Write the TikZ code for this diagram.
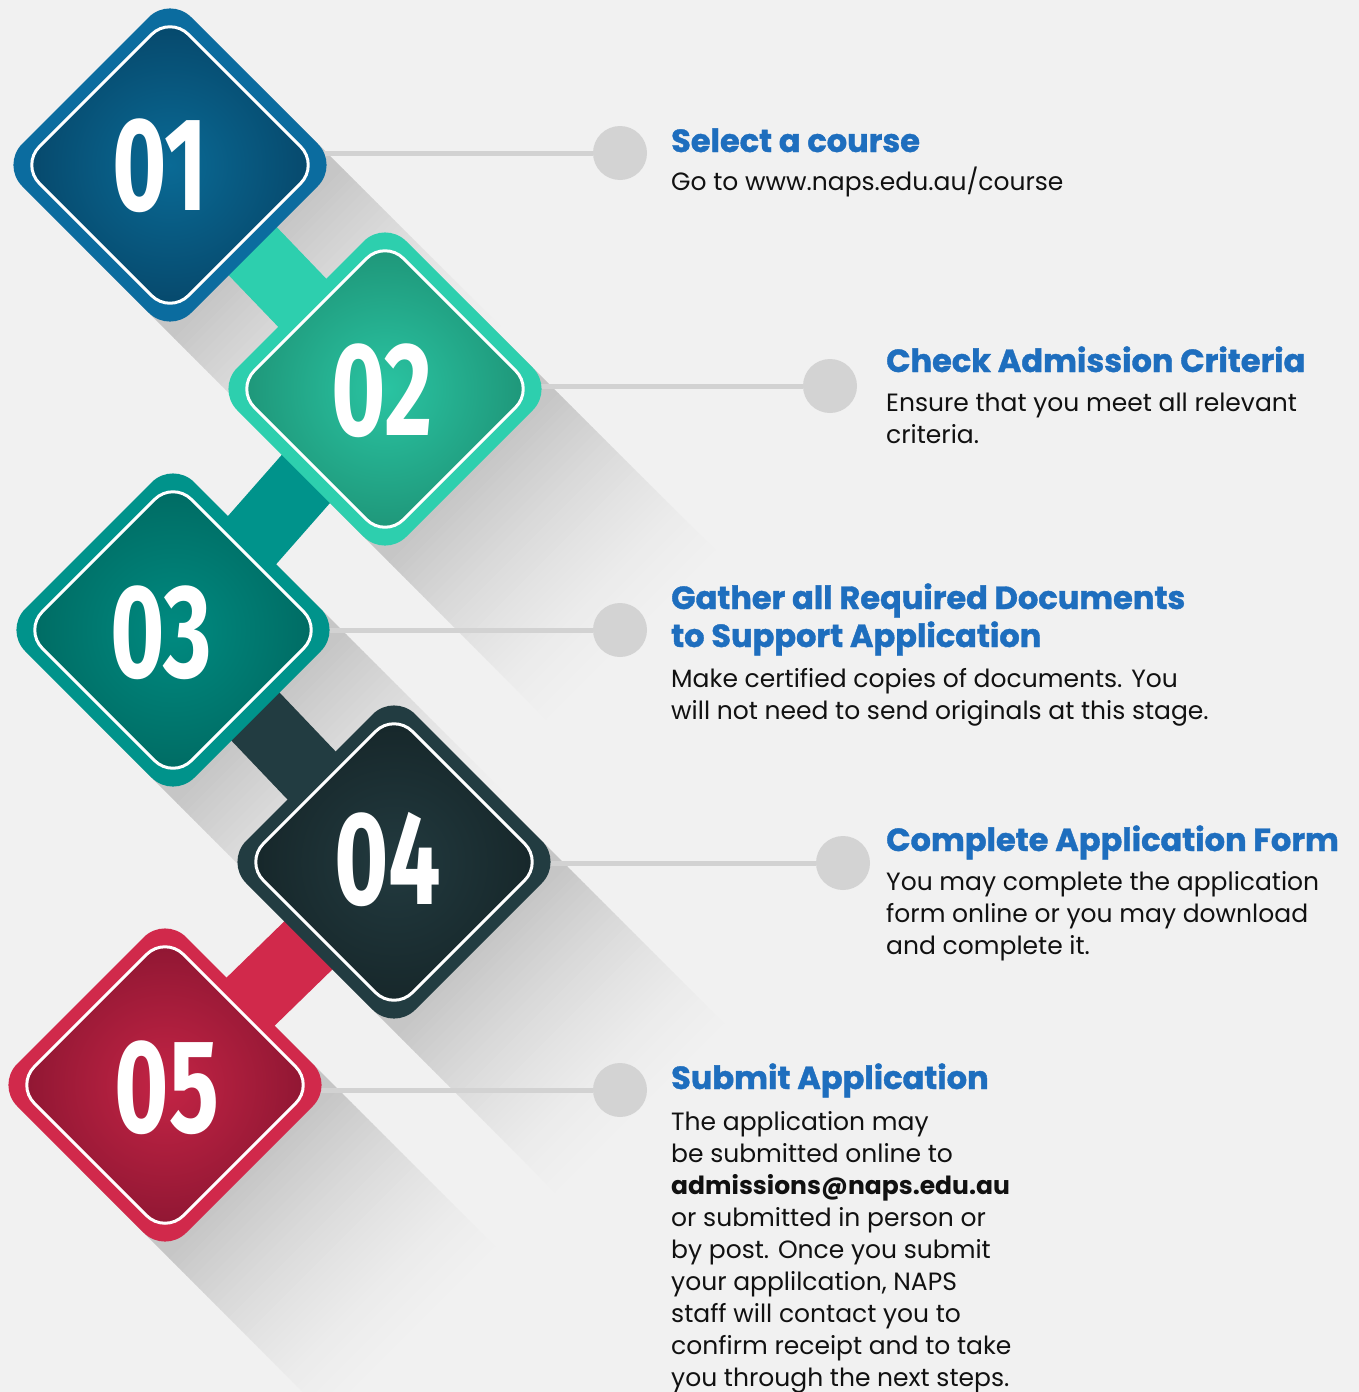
\documentclass[tikz,border=0pt]{standalone}
\usepackage{fontspec}
\setmainfont{Poppins}
\newfontfamily\headfont{Poppins}[BoldFeatures={FakeBold=1.2}]
\newfontfamily\numfont{Fira Sans}
\usetikzlibrary{calc}
\definecolor{bgc}{HTML}{F1F1F1}
\definecolor{shc}{HTML}{C6C6C6}
\definecolor{linec}{HTML}{D2D2D2}
\definecolor{dotc}{HTML}{D3D3D3}
\definecolor{headc}{HTML}{1E6EBE}
\definecolor{txtc}{HTML}{111111}
\definecolor{bA}{HTML}{0B6C9F}\definecolor{iA}{HTML}{0A6A95}\definecolor{eA}{HTML}{06476A}
\definecolor{bB}{HTML}{2DCFAE}\definecolor{iB}{HTML}{2AC4A2}\definecolor{eB}{HTML}{1E9477}
\definecolor{bC}{HTML}{00938B}\definecolor{iC}{HTML}{008A80}\definecolor{eC}{HTML}{006A62}
\definecolor{bD}{HTML}{223C41}\definecolor{iD}{HTML}{223A3F}\definecolor{eD}{HTML}{162629}
\definecolor{bE}{HTML}{D1294B}\definecolor{iE}{HTML}{C32445}\definecolor{eE}{HTML}{8D1632}
\newcommand\textlines[1]{\begin{tabular}[t]{@{}l@{}}#1\end{tabular}}
\tikzset{
  hline/.style={draw=linec, line width=5pt},
  dot/.style={circle, fill=dotc, minimum size=54pt, inner sep=0pt},
  bar/.style={line width=68pt},
  numtext/.style={text=white, inner sep=0pt, font={\numfont\bfseries\fontsize{133pt}{133pt}\selectfont}},
  headtext/.style={anchor=base west, inner sep=0pt, text=headc, font={\headfont\bfseries\fontsize{32pt}{38pt}\selectfont}},
  bodytext/.style={anchor=base west, inner sep=0pt, text=txtc, font={\fontsize{25pt}{32pt}\selectfont}}
}
\newcommand\stepshadow[2]{%
  \begin{scope}[shift={(#1,#2)}, rotate=-45]
    \foreach \i in {0,...,39}{%
      \pgfmathsetmacro\xa{\i==0 ? 0 : 119.5+\i*6}%
      \pgfmathsetmacro\xb{119.5+(\i+1)*6+1}%
      \pgfmathsetmacro\pc{100*(1-\i/40)^1.6}%
      \fill[shc!\pc!bgc] (\xa,-119.5) rectangle (\xb,119.5);
    }
  \end{scope}}
\newcommand\stepdiamond[5]{% cx cy border inner edge
  \fill[#3, rounded corners=30pt] (#1-169,#2) -- (#1,#2-169) -- (#1+169,#2) -- (#1,#2+169) -- cycle;
  \shade[inner color=#4, outer color=#5, rounded corners=26pt] (#1-149,#2) -- (#1,#2-149) -- (#1+149,#2) -- (#1,#2+149) -- cycle;
  \draw[white, line width=3pt, rounded corners=26pt] (#1-149,#2) -- (#1,#2-149) -- (#1+149,#2) -- (#1,#2+149) -- cycle;
}
\begin{document}
\begin{tikzpicture}[x=1pt, y=-1pt]
\useasboundingbox (0,0) rectangle (1359,1392);
\fill[bgc] (0,0) rectangle (1359,1392);
% shadows
\stepshadow{170}{165}
\stepshadow{385}{389}
\stepshadow{173}{630}
\stepshadow{394}{862}
\stepshadow{165}{1085}
% centres
\coordinate (d1) at (170,165);
\coordinate (d2) at (385,389);
\coordinate (d3) at (173,630);
\coordinate (d4) at (394,862);
\coordinate (d5) at (165,1085);
% leader lines
\coordinate (l1) at (170,153); \node[dot] (c1) at (620,153) {};
\coordinate (l2) at (385,386); \node[dot] (c2) at (830,386) {};
\coordinate (l3) at (173,630); \node[dot] (c3) at (620,630) {};
\coordinate (l4) at (394,863); \node[dot] (c4) at (843,863) {};
\coordinate (l5) at (165,1090); \node[dot] (c5) at (620,1090) {};
\draw[hline] (l1) -- (c1);
\draw[hline] (l2) -- (c2);
\draw[hline] (l3) -- (c3);
\draw[hline] (l4) -- (c4);
\draw[hline] (l5) -- (c5);
% bars
\draw[bar, bB] (d1) -- (d2);
\draw[bar, bC] (d2) -- (d3);
\draw[bar, bD] (d3) -- (d4);
\draw[bar, bE] (d4) -- (d5);
% diamonds
\stepdiamond{170}{165}{bA}{iA}{eA}
\stepdiamond{385}{389}{bB}{iB}{eB}
\stepdiamond{173}{630}{bC}{iC}{eC}
\stepdiamond{394}{862}{bD}{iD}{eD}
\stepdiamond{165}{1085}{bE}{iE}{eE}
\node[numtext] (n1) at (160,166) {\scalebox{0.7}[1]{01}};
\node[numtext] (n2) at (382,391) {\scalebox{0.7}[1]{02}};
\node[numtext] (n3) at (161,633) {\scalebox{0.7}[1]{03}};
\node[numtext] (n4) at (388,860) {\scalebox{0.7}[1]{04}};
\node[numtext] (n5) at (167,1088) {\scalebox{0.7}[1]{05}};
% texts
\node[headtext] (h1) at (671,152) {Select a course};
\node[bodytext] (t1) at (671,190) {Go to www.naps.edu.au/course};
\node[headtext] (h2) at (886,372) {Check Admission Criteria};
\node[bodytext] (t2) at (886,411) {\textlines{Ensure that you meet all relevant\\criteria.}};
\node[headtext] (h3) at (671,609) {\textlines{Gather all Required Documents\\to Support Application}};
\node[bodytext] (t3) at (671,687) {\textlines{Make certified copies of documents. You\\will not need to send originals at this stage.}};
\node[headtext] (h4) at (886,851) {Complete Application Form};
\node[bodytext] (t4) at (886,890) {\textlines{You may complete the application\\form online or you may download\\and complete it.}};
\node[headtext] (h5) at (671,1089) {Submit Application};
\node[bodytext] (t5) at (671,1130) {\textlines{The application may\\be submitted online to\\\textbf{admissions@naps.edu.au}\\or submitted in person or\\by post. Once you submit\\your applilcation, NAPS\\staff will contact you to\\confirm receipt and to take\\you through the next steps.}};
\end{tikzpicture}
\end{document}
